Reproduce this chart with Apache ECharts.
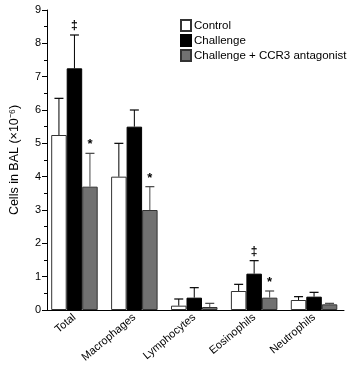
<!DOCTYPE html>
<html>
<head>
<meta charset="utf-8">
<script src="https://cdn.jsdelivr.net/npm/echarts@6/dist/echarts.min.js"></script>
<style>
  html, body { margin: 0; padding: 0; background: #fff; }
  #main { width: 351px; height: 368px; }
</style>
</head>
<body>
<div id="main"></div>
<script>
// cell types on the x axis
var categories = ['Total', 'Macrophages', 'Lymphocytes', 'Eosinophils', 'Neutrophils'];
var seriesNames = ['Control', 'Challenge', 'Challenge + CCR3 antagonist'];

// means (x10^-6)
var controlVals = [5.25, 4.0, 0.13, 0.57, 0.3];
var challengeVals = [7.25, 5.5, 0.37, 1.09, 0.4];
var antagonistVals = [3.7, 3.0, 0.09, 0.37, 0.17];

// top of the error bars
var controlErr = [6.35, 5.0, 0.33, 0.77, 0.4];
var challengeErr = [8.25, 6.0, 0.67, 1.48, 0.53];
var antagonistErr = [4.7, 3.7, 0.2, 0.57, 0.2];

// significance marks
var controlMarks = ['', '', '', '', ''];
var challengeMarks = ['‡', '', '', '‡', ''];
var antagonistMarks = ['*', '*', '', '*', ''];

var yTicks = [0, 1, 2, 3, 4, 5, 6, 7, 8, 9];

var BAR_W = 15.5;
var FONT = 'Liberation Sans, Arial, Helvetica, sans-serif';

var myChart = echarts.init(document.getElementById('main'));

//误差线
function errSeries (idx, vals, errs, marks, color) {
  var data = [];
  for (var i = 0; i < categories.length; i++) {
    data.push([i, vals[i], errs[i], marks[i]]);
  }
  return {
    type: 'custom',
    name: seriesNames[idx] + ' err',
    z: 5,
    data: data,
    renderItem: function (params, api) {
      var base = api.coord([api.value(0), api.value(1)]);
      var top = api.coord([api.value(0), api.value(2)]);
      var x = base[0] + (idx - 1) * BAR_W;
      var cap = 4.5;
      var children = [
        { type: 'line', shape: { x1: x, y1: base[1], x2: x, y2: top[1] }, style: { stroke: color, lineWidth: 1 } },
        { type: 'line', shape: { x1: x - cap, y1: top[1], x2: x + cap, y2: top[1] }, style: { stroke: color, lineWidth: 1.2 } }
      ];
      var mark = marks[params.dataIndex];
      if (mark) {
        children.push({
          type: 'text',
          style: {
            text: mark, x: x, y: top[1] - (mark === '*' ? 2 : 3),
            align: 'center', verticalAlign: 'bottom',
            font: (mark === '*' ? 'bold 13px ' : 'bold 12px ') + FONT, fill: '#000'
          }
        });
      }
      return { type: 'group', children: children };
    }
  };
}

var option = {
  animation: false,
  backgroundColor: '#fff',
  textStyle: { fontFamily: FONT },
  grid: { left: 41.5, right: 7, top: 10, bottom: 58 },
  legend: {
    orient: 'vertical',
    left: 175,
    top: 14,
    icon: 'rect',
    itemWidth: 10,
    itemHeight: 11,
    itemGap: 2,
    data: seriesNames,
    textStyle: { fontSize: 11.5, color: '#000', fontFamily: FONT, padding: [0, 0, 0, -2] }
  },
  xAxis: {
    type: 'category',
    data: categories,
    axisLine: { lineStyle: { color: '#000', width: 1 } },
    axisTick: { show: false },
    axisLabel: { rotate: 40, fontSize: 11, color: '#000', fontFamily: FONT, margin: 6 }
  },
  yAxis: {
    type: 'value',
    min: yTicks[0],
    max: yTicks[yTicks.length - 1],
    interval: 1,
    offset: -2.5,
    name: 'Cells in BAL (×10⁻⁶)',
    nameLocation: 'middle',
    nameGap: 26,
    nameTextStyle: { fontSize: 12.5, color: '#000', fontFamily: FONT },
    axisLine: { show: true, lineStyle: { color: '#000', width: 1 } },
    axisTick: { show: true, length: 5, lineStyle: { color: '#000' } },
    minorTick: { show: true, splitNumber: 2, length: 3, lineStyle: { color: '#000' } },
    splitLine: { show: false },
    axisLabel: { fontSize: 11, color: '#000', fontFamily: FONT, margin: 6 }
  },
  series: [
    {
      name: seriesNames[0], type: 'bar', data: controlVals, barWidth: BAR_W, barGap: '0%',
      itemStyle: { color: '#fff', borderColor: '#333', borderWidth: 1 }
    },
    {
      name: seriesNames[1], type: 'bar', data: challengeVals, barWidth: BAR_W, barGap: '0%',
      itemStyle: { color: '#000', borderColor: '#000', borderWidth: 1 }
    },
    {
      name: seriesNames[2], type: 'bar', data: antagonistVals, barWidth: BAR_W, barGap: '0%',
      itemStyle: { color: '#717171', borderColor: '#333', borderWidth: 1 }
    },
    errSeries(0, controlVals, controlErr, controlMarks, '#000'),
    errSeries(1, challengeVals, challengeErr, challengeMarks, '#000'),
    errSeries(2, antagonistVals, antagonistErr, antagonistMarks, '#444')
  ]
};

myChart.setOption(option);
</script>
</body>
</html>
